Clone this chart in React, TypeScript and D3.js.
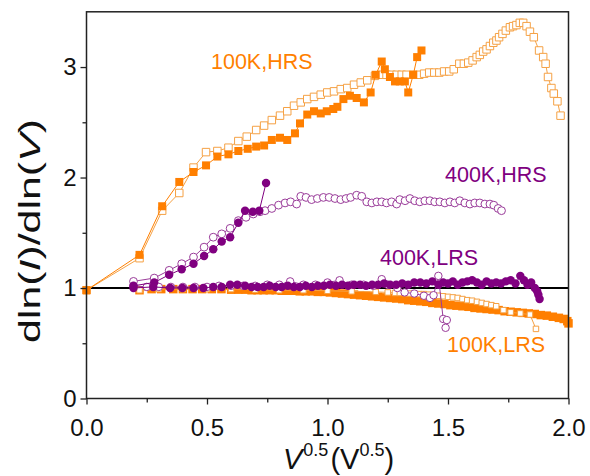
import React, { useEffect, useRef } from 'react';
import * as d3 from 'd3';

type Pt = [number, number];

// [V^0.5, dln(I)/dln(V)] pairs
const hrs100Filled: Pt[] = [
  [0, 0.98], [0.22, 1.3], [0.314, 1.74], [0.385, 1.96], [0.444, 2.05], [0.496, 2.11], [0.543, 2.19],
  [0.589, 2.21], [0.63, 2.24], [0.669, 2.26], [0.704, 2.28], [0.737, 2.29], [0.769, 2.34], [0.803, 2.36],
  [0.833, 2.34], [0.865, 2.4], [0.886, 2.49], [0.916, 2.57], [0.944, 2.6], [0.972, 2.58], [0.997, 2.6],
  [1.024, 2.62], [1.041, 2.64], [1.066, 2.71], [1.093, 2.74], [1.121, 2.72], [1.151, 2.68], [1.179, 2.77],
  [1.2, 2.93], [1.225, 3.05], [1.238, 2.98], [1.259, 2.91], [1.28, 2.87], [1.3, 2.87], [1.321, 2.87],
  [1.335, 2.77], [1.356, 2.93], [1.372, 3.09], [1.39, 3.15],
];

const hrs100Open: Pt[] = [
  [0, 0.98], [0.22, 1.27], [0.314, 1.7], [0.385, 1.86], [0.444, 2.09], [0.496, 2.23], [0.543, 2.24],
  [0.589, 2.27], [0.63, 2.33], [0.665, 2.37], [0.704, 2.43], [0.737, 2.47], [0.769, 2.52], [0.803, 2.56],
  [0.833, 2.6], [0.861, 2.65], [0.889, 2.68], [0.916, 2.71], [0.944, 2.73], [0.972, 2.75], [0.999, 2.77],
  [1.027, 2.78], [1.055, 2.8], [1.082, 2.81], [1.11, 2.84], [1.138, 2.86], [1.165, 2.88], [1.197, 2.92],
  [1.225, 2.93], [1.245, 2.93], [1.266, 2.93], [1.287, 2.93], [1.308, 2.93], [1.328, 2.93], [1.356, 2.93],
  [1.381, 2.93], [1.401, 2.94], [1.422, 2.95], [1.443, 2.95], [1.464, 2.95], [1.484, 2.96], [1.505, 2.96],
  [1.524, 2.98], [1.547, 3.03], [1.566, 3.03], [1.584, 3.04], [1.602, 3.06], [1.619, 3.09], [1.632, 3.11],
  [1.646, 3.14], [1.66, 3.16], [1.674, 3.19], [1.688, 3.22], [1.701, 3.24], [1.712, 3.27], [1.726, 3.3],
  [1.74, 3.33], [1.757, 3.36], [1.77, 3.37], [1.784, 3.38], [1.798, 3.4], [1.812, 3.4], [1.826, 3.37],
  [1.84, 3.32], [1.856, 3.27], [1.878, 3.15], [1.895, 3.09], [1.905, 3.03], [1.915, 2.91], [1.929, 2.81],
  [1.939, 2.76], [1.954, 2.69], [1.967, 2.56],
];

const hrs400Filled: Pt[] = [
  [0.195, 1.02], [0.281, 1.05], [0.343, 1.12], [0.395, 1.17], [0.444, 1.22], [0.488, 1.29], [0.526, 1.35],
  [0.561, 1.42], [0.596, 1.46], [0.63, 1.59], [0.658, 1.7], [0.69, 1.69], [0.717, 1.7], [0.745, 1.95],
];

const hrs400Open: Pt[] = [
  [0.195, 1.06], [0.281, 1.09], [0.343, 1.16], [0.395, 1.22], [0.444, 1.28], [0.488, 1.37], [0.526, 1.46],
  [0.561, 1.49], [0.596, 1.54], [0.63, 1.61], [0.662, 1.64], [0.692, 1.67], [0.72, 1.69], [0.741, 1.7],
  [0.769, 1.72], [0.797, 1.75], [0.824, 1.77], [0.847, 1.78], [0.872, 1.76], [0.889, 1.83], [0.911, 1.82],
  [0.934, 1.8], [0.958, 1.81], [0.983, 1.82], [1.007, 1.82], [1.031, 1.81], [1.055, 1.8], [1.077, 1.81],
  [1.096, 1.82], [1.121, 1.84], [1.142, 1.83], [1.163, 1.78], [1.184, 1.77], [1.205, 1.78], [1.225, 1.78],
  [1.245, 1.77], [1.266, 1.78], [1.287, 1.76], [1.3, 1.8], [1.322, 1.79], [1.342, 1.81], [1.362, 1.79],
  [1.383, 1.78], [1.404, 1.79], [1.425, 1.79], [1.445, 1.78], [1.466, 1.78], [1.487, 1.77], [1.508, 1.78],
  [1.528, 1.77], [1.549, 1.79], [1.57, 1.77], [1.591, 1.76], [1.611, 1.77], [1.632, 1.77], [1.653, 1.76],
  [1.674, 1.76], [1.69, 1.75], [1.708, 1.72], [1.722, 1.7],
];

const lrs400Filled: Pt[] = [
  [0.195, 1.0], [0.277, 1.01], [0.347, 1.0], [0.398, 1.0], [0.444, 1.0], [0.485, 1.0], [0.526, 1.01],
  [0.561, 1.01], [0.596, 1.03], [0.626, 1.03], [0.658, 1.02], [0.685, 1.01], [0.71, 1.01], [0.735, 1.01],
  [0.76, 1.02], [0.785, 1.01], [0.81, 1.01], [0.835, 1.02], [0.86, 1.01], [0.885, 1.01], [0.91, 1.02],
  [0.935, 1.01], [0.96, 1.02], [0.985, 1.02], [1.01, 1.03], [1.035, 1.02], [1.06, 1.03], [1.085, 1.02],
  [1.11, 1.03], [1.135, 1.03], [1.16, 1.02], [1.185, 1.03], [1.21, 1.03], [1.235, 1.04], [1.26, 1.03],
  [1.285, 1.03], [1.31, 1.04], [1.335, 1.03], [1.36, 1.05], [1.385, 1.05], [1.41, 1.04], [1.435, 1.06],
  [1.46, 1.03], [1.48, 1.05], [1.5, 1.04], [1.52, 1.06], [1.54, 1.03], [1.56, 1.05], [1.58, 1.06],
  [1.6, 1.07], [1.62, 1.05], [1.64, 1.03], [1.66, 1.06], [1.68, 1.04], [1.7, 1.05], [1.72, 1.04],
  [1.74, 1.06], [1.76, 1.07], [1.78, 1.04], [1.8, 1.11], [1.815, 1.07], [1.83, 1.03], [1.845, 1.05],
  [1.86, 1.0], [1.87, 0.97], [1.875, 0.94], [1.88, 0.9],
];

const lrs400Open: Pt[] = [
  [0.195, 1.02], [0.25, 1.01], [0.3, 1.01], [0.35, 1.01], [0.4, 1.01], [0.45, 1.01], [0.5, 1.01],
  [0.55, 1.02], [0.6, 1.02], [0.65, 1.02], [0.7, 1.02], [0.75, 1.03], [0.8, 1.03], [0.845, 1.06],
  [0.9, 1.03], [0.95, 1.03], [1.0, 1.05], [1.05, 1.07], [1.1, 1.03], [1.15, 1.03], [1.19, 1.02],
  [1.225, 1.08], [1.25, 1.03], [1.29, 1.0], [1.32, 0.96], [1.36, 0.95], [1.4, 0.93], [1.425, 0.91],
  [1.44, 0.935], [1.46, 1.11], [1.48, 0.72], [1.495, 0.71], [1.49, 0.64],
];

const lrs100Filled: Pt[] = [
  [0.22, 0.98], [0.27, 0.99], [0.31, 0.99], [0.36, 0.99], [0.4, 0.99], [0.44, 0.99], [0.48, 0.99],
  [0.52, 0.99], [0.56, 0.99], [0.6, 0.985], [0.63, 0.985], [0.66, 0.985], [0.685, 0.98], [0.71, 0.98],
  [0.735, 0.98], [0.76, 0.98], [0.785, 0.98], [0.81, 0.975], [0.835, 0.975], [0.86, 0.975], [0.885, 0.97],
  [0.91, 0.97], [0.935, 0.97], [0.96, 0.965], [0.985, 0.965], [1.01, 0.96], [1.035, 0.955], [1.06, 0.95],
  [1.085, 0.945], [1.11, 0.94], [1.135, 0.935], [1.16, 0.93], [1.185, 0.925], [1.21, 0.92], [1.235, 0.915],
  [1.26, 0.91], [1.285, 0.905], [1.31, 0.9], [1.335, 0.89], [1.36, 0.885], [1.385, 0.88], [1.41, 0.875],
  [1.435, 0.865], [1.46, 0.86], [1.485, 0.855], [1.51, 0.845], [1.535, 0.84], [1.56, 0.835], [1.585, 0.83],
  [1.61, 0.82], [1.635, 0.815], [1.66, 0.81], [1.685, 0.805], [1.71, 0.8], [1.735, 0.79], [1.76, 0.785],
  [1.785, 0.78], [1.81, 0.775], [1.835, 0.77], [1.86, 0.765], [1.885, 0.755], [1.91, 0.75], [1.935, 0.74],
  [1.96, 0.73], [1.98, 0.72], [1.995, 0.7], [2.0, 0.68],
];

const lrs100Open: Pt[] = [
  [0.22, 0.98], [0.3, 0.99], [0.4, 0.99], [0.5, 0.99], [0.6, 0.99], [0.7, 0.985], [0.8, 0.98],
  [0.9, 0.98], [1.0, 0.975], [1.1, 0.97], [1.2, 0.965], [1.25, 0.96], [1.28, 0.955], [1.3, 0.955],
  [1.32, 0.955], [1.34, 0.95], [1.36, 0.95], [1.38, 0.945], [1.4, 0.945], [1.42, 0.94], [1.44, 0.935],
  [1.46, 0.93], [1.48, 0.925], [1.5, 0.92], [1.52, 0.915], [1.54, 0.91], [1.56, 0.9], [1.58, 0.89],
  [1.6, 0.885], [1.62, 0.875], [1.64, 0.865], [1.66, 0.855], [1.68, 0.845], [1.7, 0.835], [1.73, 0.8],
  [1.76, 0.78], [1.8, 0.77], [1.84, 0.76], [1.865, 0.63],
];

const xTicks = [0, 0.5, 1.0, 1.5, 2.0];
const xMinor = [0.25, 0.75, 1.25, 1.75];
const yTicks = [0, 1, 2, 3];
const yMinor = [0.5, 1.5, 2.5];

const ORANGE = '#FF7F00';
const ORANGE_LIGHT = '#F5A144';
const PURPLE = '#800080';
const PURPLE_LIGHT = '#9A3C9A';
const FONT = '"Liberation Sans", Arial, sans-serif';

function App() {
  const ref = useRef<SVGSVGElement>(null);
  const width = 590;
  const height = 476;

  useEffect(() => {
    const svg = d3.select(ref.current);
    svg.selectAll('*').remove();

    svg.append('rect').attr('width', width).attr('height', height).attr('fill', 'white');

    const x = d3.scaleLinear().domain([0, 2]).range([86.5, 568.5]);
    const y = d3.scaleLinear().domain([0, 3.5]).range([398.5, 11.8]);

    const line = d3.line<Pt>().x(d => x(d[0])).y(d => y(d[1]));
    const plot = svg.append('g');

    // reference line at 1
    plot.append('line')
      .attr('x1', x(0)).attr('x2', x(2))
      .attr('y1', y(1)).attr('y2', y(1))
      .attr('stroke', '#000').attr('stroke-width', 2);

    const drawSeries = (data: Pt[], shape: 'square' | 'circle', filled: boolean, color: string, size: number) => {
      plot.append('path')
        .attr('d', line(data))
        .attr('fill', 'none')
        .attr('stroke', color)
        .attr('stroke-width', 1);
      const sym = d3.symbol().type(shape === 'square' ? d3.symbolSquare : d3.symbolCircle).size(size);
      plot.append('g').selectAll('path')
        .data(data)
        .enter().append('path')
        .attr('d', sym)
        .attr('transform', d => `translate(${x(d[0])},${y(d[1])})`)
        .attr('fill', filled ? color : 'white')
        .attr('stroke', filled ? 'none' : color)
        .attr('stroke-width', 1);
    };

    drawSeries(lrs100Filled, 'square', true, ORANGE, 72);
    drawSeries(lrs100Open, 'square', false, ORANGE_LIGHT, 30);
    drawSeries(hrs100Open, 'square', false, ORANGE_LIGHT, 56);
    drawSeries(hrs100Filled, 'square', true, ORANGE, 64);
    drawSeries(lrs400Open, 'circle', false, PURPLE_LIGHT, 44);
    drawSeries(lrs400Filled, 'circle', true, PURPLE, 56);
    drawSeries(hrs400Open, 'circle', false, PURPLE_LIGHT, 48);
    drawSeries(hrs400Filled, 'circle', true, PURPLE, 56);

    // frame
    svg.append('rect')
      .attr('x', x(0)).attr('y', y(3.5))
      .attr('width', x(2) - x(0)).attr('height', y(0) - y(3.5))
      .attr('fill', 'none').attr('stroke', '#222').attr('stroke-width', 1.5);

    // axes
    const gx = svg.append('g').attr('transform', `translate(0,${y(0)})`);
    gx.call(d3.axisBottom(x).tickValues(xTicks).tickSize(6).tickSizeOuter(0).tickPadding(14).tickFormat(d3.format('.1f')));
    gx.append('g').call(d3.axisBottom(x).tickValues(xMinor).tickSize(4).tickSizeOuter(0).tickFormat(() => ''));

    const gy = svg.append('g').attr('transform', `translate(${x(0)},0)`);
    gy.call(d3.axisLeft(y).tickValues(yTicks).tickSize(6).tickSizeOuter(0).tickPadding(4).tickFormat(d3.format('d')));
    gy.append('g').call(d3.axisLeft(y).tickValues(yMinor).tickSize(4).tickSizeOuter(0).tickFormat(() => ''));

    svg.selectAll('.domain').remove();
    svg.selectAll('.tick line').attr('stroke', '#222').attr('stroke-width', 1.3);
    svg.selectAll('.tick text').attr('font-family', FONT).attr('font-size', 24).attr('fill', '#111');

    // series labels
    const labels: [string, number, number, string][] = [
      ['100K,HRS', 211, 69, ORANGE],
      ['400K,HRS', 445, 182, PURPLE],
      ['400K,LRS', 380, 265, PURPLE],
      ['100K,LRS', 447, 352, ORANGE],
    ];
    svg.selectAll('text.lab')
      .data(labels)
      .enter().append('text')
      .attr('class', 'lab')
      .attr('x', d => d[1]).attr('y', d => d[2])
      .attr('font-family', FONT).attr('font-size', 21.5)
      .attr('fill', d => d[3])
      .text(d => d[0]);

    // x title
    const xt = svg.append('text')
      .attr('x', 283).attr('y', 469)
      .attr('font-family', FONT).attr('font-size', 29).attr('fill', '#111');
    xt.append('tspan').attr('font-style', 'italic').text('V');
    xt.append('tspan').attr('font-size', 18).attr('dy', -13).attr('dx', 1).text('0.5');
    xt.append('tspan').attr('dy', 13).attr('dx', 2).text('(V');
    xt.append('tspan').attr('font-size', 18).attr('dy', -13).text('0.5');
    xt.append('tspan').attr('dy', 13).text(')');

    // y title
    const yt = svg.append('text')
      .attr('transform', 'translate(40,231) rotate(-90)')
      .attr('text-anchor', 'middle')
      .attr('font-family', FONT).attr('font-size', 30).attr('fill', '#111')
      .attr('textLength', 224).attr('lengthAdjust', 'spacingAndGlyphs');
    yt.append('tspan').text('dln(');
    yt.append('tspan').attr('font-style', 'italic').text('I');
    yt.append('tspan').text(')/dln(');
    yt.append('tspan').attr('font-style', 'italic').text('V');
    yt.append('tspan').text(')');
  }, []);

  return (
    <svg
      ref={ref}
      width={width}
      height={height}
      style={{ position: 'absolute', left: 0, top: 0, display: 'block' }}
    />
  );
}

export default App;
